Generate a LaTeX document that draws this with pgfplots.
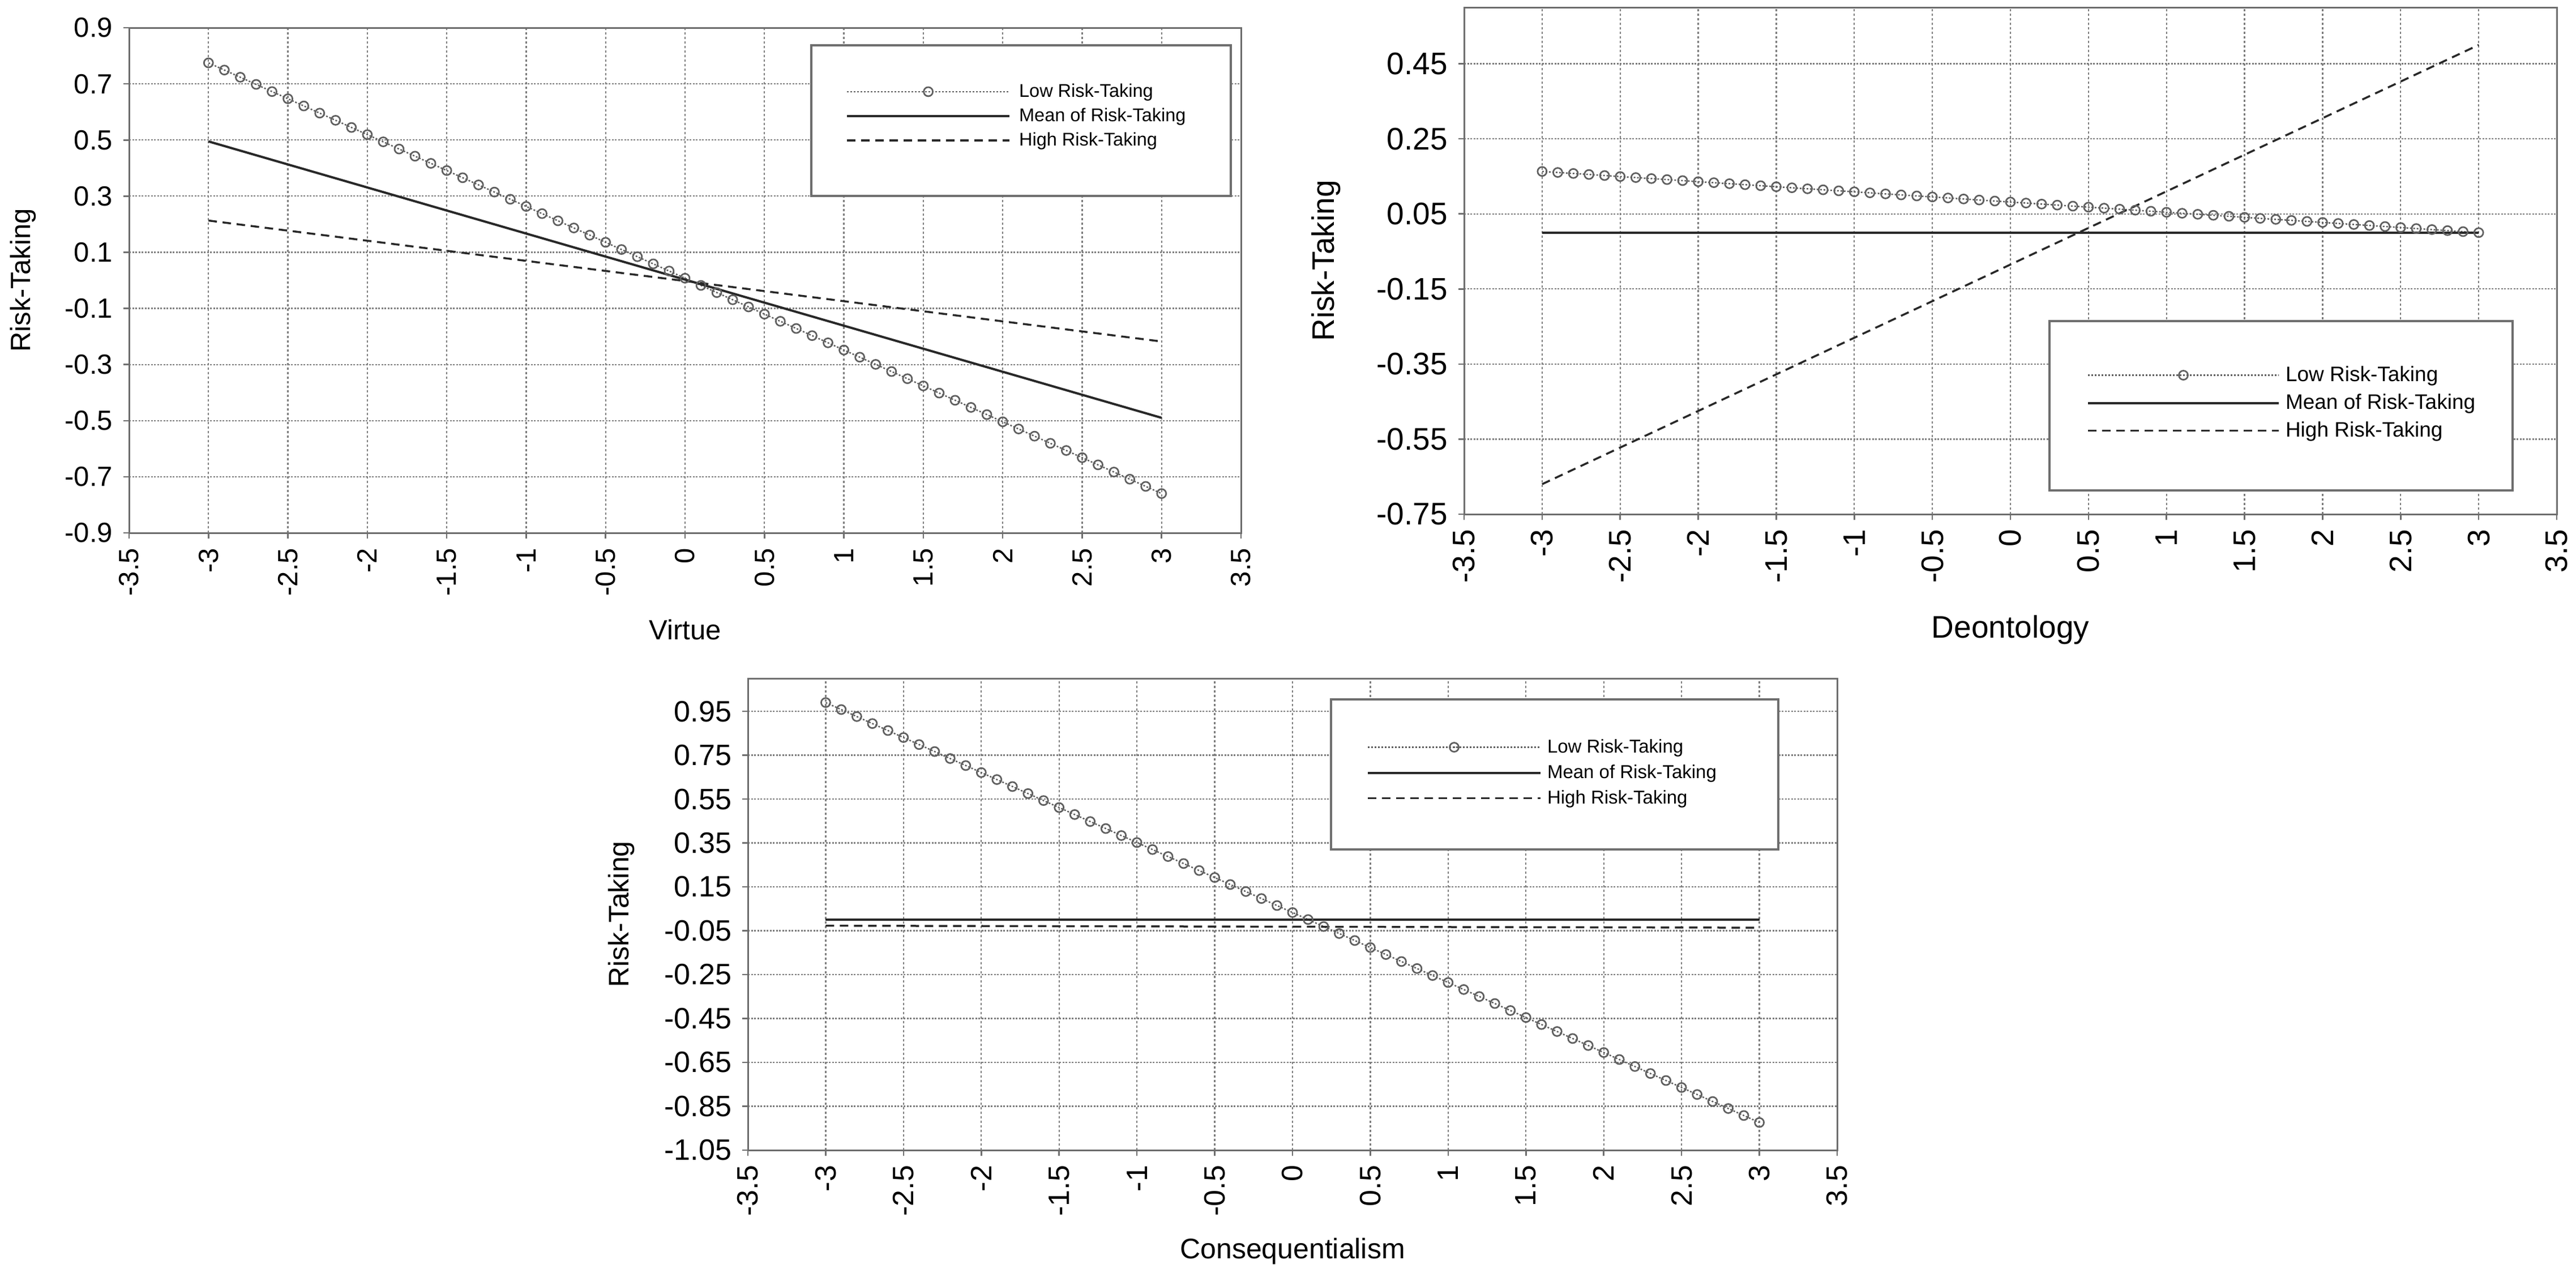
\documentclass[border=0pt]{standalone}
\usepackage{pgfplots}
\pgfplotsset{compat=1.18}
\usepackage{fontspec}
\setmainfont{Liberation Sans}

\definecolor{gridgray}{RGB}{125,125,125}
\definecolor{axgray}{RGB}{110,110,110}
\definecolor{lowgray}{RGB}{95,95,95}
\definecolor{darkline}{RGB}{40,40,40}

\pgfplotsset{
  rtbase/.style={
    scale only axis,
    anchor=south west,
    xmin=-3.5, xmax=3.5,
    xtick={-3.5,-3,-2.5,-2,-1.5,-1,-0.5,0,0.5,1,1.5,2,2.5,3,3.5},
    xticklabels={-3.5,-3,-2.5,-2,-1.5,-1,-0.5,0,0.5,1,1.5,2,2.5,3,3.5},
    grid=major,
    major x grid style={gridgray, line width=0.45pt, dash pattern=on 0.9pt off 0.7pt},
    major y grid style={gridgray, line width=0.45pt, dash pattern=on 0.6pt off 0.5pt},
    axis line style={axgray, line width=0.6pt},
    xtick pos=bottom, ytick pos=left,
    tick align=outside,
    major tick length=2pt,
    tick style={axgray, line width=0.5pt},
    xticklabel style={rotate=90, anchor=east, inner sep=0pt},
    yticklabel style={anchor=east, inner sep=0pt},
    xticklabel shift=3.2pt,
    yticklabel shift=3.6pt,
    scaled ticks=false,
    legend cell align=left,
    xlabel style={anchor=center},
    ylabel style={anchor=center},
  },
  lowstyle/.style={lowgray, line width=0.5pt, dash pattern=on 0.6pt off 0.6pt,
    mark=o, mark size=1.6pt, mark options={solid, lowgray, fill=white, line width=0.55pt}},
  meanstyle/.style={darkline, line width=0.8pt, solid},
  highstyle/.style={darkline, line width=0.7pt, dash pattern=on 3pt off 2pt},
}

\begin{document}
\begin{tikzpicture}
\useasboundingbox (0pt,0pt) rectangle (910pt,450.8pt);

% ---------------- Top-left: Virtue ----------------
\begin{axis}[rtbase,
  at={(45.6pt,262.6pt)}, width=392.8pt, height=178.4pt,
  ymin=-0.9, ymax=0.9,
  ytick={-0.9,-0.7,-0.5,-0.3,-0.1,0.1,0.3,0.5,0.7,0.9},
  yticklabels={-0.9,-0.7,-0.5,-0.3,-0.1,0.1,0.3,0.5,0.7,0.9},
  tick label style={font=\fontsize{9.8}{10}\selectfont},
  label style={font=\fontsize{9.8}{10}\selectfont},
  xlabel={Virtue}, ylabel={Risk-Taking},
  xlabel style={at={(axis description cs:0.5,-0.1917)}},
  ylabel style={at={(axis description cs:-0.0952,0.5)}},
  legend style={draw=none, fill=none, at={(axis cs:1.009,0.704)}, anchor=north west,
    inner sep=0pt, font=\fontsize{6.5}{6.5}\selectfont, row sep=2.1pt,
    nodes={inner sep=0pt, text height=4.9pt, text depth=1.6pt},
    /tikz/every odd column/.append style={column sep=3pt}},
  legend image code/.code={\draw[mark repeat=2,mark phase=2,#1] plot coordinates {(0pt,0.3pt) (28.7pt,0.3pt) (57.4pt,0.3pt)};},
]
\addplot[lowstyle] coordinates {
(-3.0,0.7749) (-2.9,0.7493) (-2.8,0.7237) (-2.7,0.6982) (-2.6,0.6726) (-2.5,0.6470)
(-2.4,0.6214) (-2.3,0.5958) (-2.2,0.5703) (-2.1,0.5447) (-2.0,0.5191) (-1.9,0.4935)
(-1.8,0.4679) (-1.7,0.4424) (-1.6,0.4168) (-1.5,0.3912) (-1.4,0.3656) (-1.3,0.3400)
(-1.2,0.3145) (-1.1,0.2889) (-1.0,0.2633) (-0.9,0.2377) (-0.8,0.2121) (-0.7,0.1866)
(-0.6,0.1610) (-0.5,0.1354) (-0.4,0.1098) (-0.3,0.0842) (-0.2,0.0587) (-0.1,0.0331)
(0.0,0.0075) (0.1,-0.0181) (0.2,-0.0437) (0.3,-0.0692) (0.4,-0.0948) (0.5,-0.1204)
(0.6,-0.1460) (0.7,-0.1716) (0.8,-0.1971) (0.9,-0.2227) (1.0,-0.2483) (1.1,-0.2739)
(1.2,-0.2995) (1.3,-0.3250) (1.4,-0.3506) (1.5,-0.3762) (1.6,-0.4018) (1.7,-0.4274)
(1.8,-0.4529) (1.9,-0.4785) (2.0,-0.5041) (2.1,-0.5297) (2.2,-0.5553) (2.3,-0.5808)
(2.4,-0.6064) (2.5,-0.6320) (2.6,-0.6576) (2.7,-0.6832) (2.8,-0.7087) (2.9,-0.7343)
(3.0,-0.7599)};
\addplot[meanstyle] coordinates {(-3,0.495) (3,-0.490)};
\addplot[highstyle] coordinates {(-3,0.213) (3,-0.218)};
\draw[axgray, line width=0.8pt, fill=white] (axis cs:0.795,0.300) rectangle (axis cs:3.436,0.8374);
\legend{Low Risk-Taking, Mean of Risk-Taking, High Risk-Taking}
\end{axis}

% ---------------- Top-right: Deontology ----------------
\begin{axis}[rtbase,
  at={(517.2pt,269.2pt)}, width=386pt, height=179pt,
  ymin=-0.75, ymax=0.6,
  ytick={-0.75,-0.55,-0.35,-0.15,0.05,0.25,0.45},
  yticklabels={-0.75,-0.55,-0.35,-0.15,0.05,0.25,0.45},
  tick label style={font=\fontsize{11}{11}\selectfont},
  label style={font=\fontsize{11}{11}\selectfont},
  xlabel={Deontology}, ylabel={Risk-Taking},
  xlabel style={at={(axis description cs:0.5,-0.2279)}},
  ylabel style={at={(axis description cs:-0.1264,0.5)}},
  legend style={draw=none, fill=none, at={(axis cs:0.486,-0.3526)}, anchor=north west,
    inner sep=0pt, font=\fontsize{7.4}{7.4}\selectfont, row sep=2.4pt,
    nodes={inner sep=0pt, text height=5.6pt, text depth=1.8pt},
    /tikz/every odd column/.append style={column sep=2pt}},
  legend image code/.code={\draw[mark repeat=2,mark phase=2,#1] plot coordinates {(0pt,0.3pt) (33.7pt,0.3pt) (67.4pt,0.3pt)};},
]
\addplot[lowstyle] coordinates {
(-3.0,0.1630) (-2.9,0.1603) (-2.8,0.1576) (-2.7,0.1549) (-2.6,0.1521) (-2.5,0.1494)
(-2.4,0.1467) (-2.3,0.1440) (-2.2,0.1413) (-2.1,0.1386) (-2.0,0.1358) (-1.9,0.1331)
(-1.8,0.1304) (-1.7,0.1277) (-1.6,0.1250) (-1.5,0.1223) (-1.4,0.1195) (-1.3,0.1168)
(-1.2,0.1141) (-1.1,0.1114) (-1.0,0.1087) (-0.9,0.1060) (-0.8,0.1032) (-0.7,0.1005)
(-0.6,0.0978) (-0.5,0.0951) (-0.4,0.0924) (-0.3,0.0897) (-0.2,0.0869) (-0.1,0.0842)
(0.0,0.0815) (0.1,0.0788) (0.2,0.0761) (0.3,0.0734) (0.4,0.0706) (0.5,0.0679)
(0.6,0.0652) (0.7,0.0625) (0.8,0.0598) (0.9,0.0570) (1.0,0.0543) (1.1,0.0516)
(1.2,0.0489) (1.3,0.0462) (1.4,0.0435) (1.5,0.0408) (1.6,0.0380) (1.7,0.0353)
(1.8,0.0326) (1.9,0.0299) (2.0,0.0272) (2.1,0.0245) (2.2,0.0217) (2.3,0.0190)
(2.4,0.0163) (2.5,0.0136) (2.6,0.0109) (2.7,0.0082) (2.8,0.0054) (2.9,0.0027)
(3.0,0.0000)};
\addplot[meanstyle] coordinates {(-3,0.000) (3,0.000)};
\addplot[highstyle] coordinates {(-3,-0.670) (3,0.500)};
\draw[axgray, line width=0.8pt, fill=white] (axis cs:0.250,-0.687) rectangle (axis cs:3.217,-0.236);
\legend{Low Risk-Taking, Mean of Risk-Taking, High Risk-Taking}
\end{axis}

% ---------------- Bottom: Consequentialism ----------------
\begin{axis}[rtbase,
  at={(264.2pt,44.6pt)}, width=384.8pt, height=166.6pt,
  ymin=-1.05, ymax=1.1,
  ytick={-1.05,-0.85,-0.65,-0.45,-0.25,-0.05,0.15,0.35,0.55,0.75,0.95},
  yticklabels={-1.05,-0.85,-0.65,-0.45,-0.25,-0.05,0.15,0.35,0.55,0.75,0.95},
  tick label style={font=\fontsize{10.4}{10.4}\selectfont},
  label style={font=\fontsize{10}{10}\selectfont},
  xlabel={Consequentialism}, ylabel={Risk-Taking},
  xlabel style={at={(axis description cs:0.5,-0.2149)}},
  ylabel style={at={(axis description cs:-0.1159,0.5)}},
  legend style={draw=none, fill=none, at={(axis cs:0.473,0.8277)}, anchor=north west,
    inner sep=0pt, font=\fontsize{6.6}{6.6}\selectfont, row sep=2.4pt,
    nodes={inner sep=0pt, text height=5pt, text depth=1.6pt},
    /tikz/every odd column/.append style={column sep=2pt}},
  legend image code/.code={\draw[mark repeat=2,mark phase=2,#1] plot coordinates {(0pt,0.3pt) (30.5pt,0.3pt) (61pt,0.3pt)};},
]
\addplot[lowstyle] coordinates {
(-3.0,0.9900) (-2.9,0.9581) (-2.8,0.9262) (-2.7,0.8943) (-2.6,0.8624) (-2.5,0.8305)
(-2.4,0.7986) (-2.3,0.7667) (-2.2,0.7348) (-2.1,0.7029) (-2.0,0.6710) (-1.9,0.6391)
(-1.8,0.6072) (-1.7,0.5753) (-1.6,0.5434) (-1.5,0.5115) (-1.4,0.4796) (-1.3,0.4477)
(-1.2,0.4158) (-1.1,0.3839) (-1.0,0.3520) (-0.9,0.3201) (-0.8,0.2882) (-0.7,0.2563)
(-0.6,0.2244) (-0.5,0.1925) (-0.4,0.1606) (-0.3,0.1287) (-0.2,0.0968) (-0.1,0.0649)
(0.0,0.0330) (0.1,0.0011) (0.2,-0.0308) (0.3,-0.0627) (0.4,-0.0946) (0.5,-0.1265)
(0.6,-0.1584) (0.7,-0.1903) (0.8,-0.2222) (0.9,-0.2541) (1.0,-0.2860) (1.1,-0.3179)
(1.2,-0.3498) (1.3,-0.3817) (1.4,-0.4136) (1.5,-0.4455) (1.6,-0.4774) (1.7,-0.5093)
(1.8,-0.5412) (1.9,-0.5731) (2.0,-0.6050) (2.1,-0.6369) (2.2,-0.6688) (2.3,-0.7007)
(2.4,-0.7326) (2.5,-0.7645) (2.6,-0.7964) (2.7,-0.8283) (2.8,-0.8602) (2.9,-0.8921)
(3.0,-0.9240)};
\addplot[meanstyle] coordinates {(-3,0.000) (3,0.000)};
\addplot[highstyle] coordinates {(-3,-0.027) (3,-0.036)};
\draw[axgray, line width=0.8pt, fill=white] (axis cs:0.247,0.3205) rectangle (axis cs:3.122,1.0045);
\legend{Low Risk-Taking, Mean of Risk-Taking, High Risk-Taking}
\end{axis}
\end{tikzpicture}
\end{document}
